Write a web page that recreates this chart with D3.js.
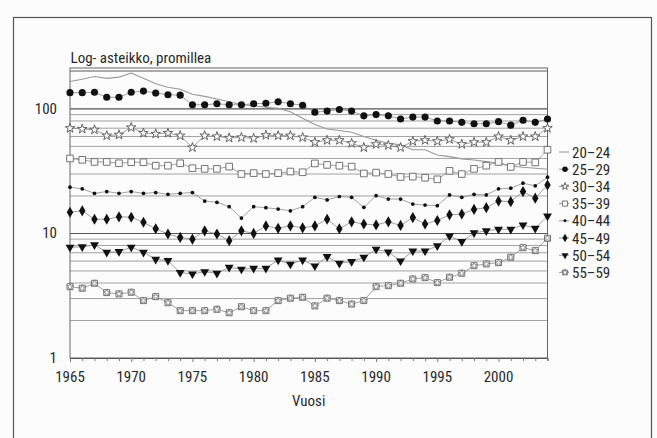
<!DOCTYPE html>
<html><head><meta charset="utf-8">
<script src="https://cdn.jsdelivr.net/npm/d3@7"></script>
<style>
html,body{margin:0;padding:0;background:#fcfcfc;}
svg{display:block;}
text{font-family:"Liberation Sans Narrow","Roboto Condensed","Arial Narrow","Liberation Sans",sans-serif;fill:#2a2a2a;}
</style></head>
<body>
<svg id="chart" width="657" height="438"></svg>
<script>
const years = [1965,1966,1967,1968,1969,1970,1971,1972,1973,1974,1975,1976,1977,1978,1979,1980,1981,1982,1983,1984,
               1985,1986,1987,1988,1989,1990,1991,1992,1993,1994,1995,1996,1997,1998,1999,2000,2001,2002,2003,2004];
const seriesNames = ["20–24","25–29","30–34","35–39","40–44","45–49","50–54","55–59"];
const s20_24 = [166,173,182,176,180,194,176,159,149,144,131,126,120,114,108,106,103,101,95,84,
                75,69,67,65,60,56,53,51.4,47,47,42.7,41.4,39.7,38.9,37.7,36.6,34.8,34,33.4,32.8];
const s25_29 = [135,135,136,124,124,136,139,134,130,129,108,108,110,108,108,110,111,114,110,107,
                94,96,99,96,88,90,88,83,86,86,80,80,78,76,76,79,74,81,78,83];
const s30_34 = [70,69,68,61,62,71,64,63,64,61,49,61,60,58.5,59,58,61.5,61,61,59,
                54,56,56,53,49,52,51,49,55,56,55,57,52,54,54,60,56,60,60,70];
const s35_39 = [40,39,37.5,37.5,36.6,37.3,37.3,35,35,36.6,33.4,33,33,34.4,30,30.5,30,30.5,31.4,31,
                36.5,35.5,35,34.4,30.3,30.8,30,28.4,28.6,28,27.2,31.8,30,33,35,37.5,34.2,37.5,37.2,47];
const s40_44 = [23.5,22.8,21,21.7,21,21.7,21,21.3,20.6,21,21.3,18.2,17.8,16.4,13.3,16.4,16.1,15.7,15.2,16.4,
                19.5,18.6,19.8,19.5,16.2,20.1,18.9,18.9,17.2,16.9,16.7,20.4,19.5,20.6,20.4,22.8,23.1,25.3,24.1,28.3];
const s45_49 = [14.8,15.2,13,13,13.6,13.5,12.3,10.9,9.9,9.3,9.0,10.5,9.9,8.75,10.5,10,11.5,11,11.5,11.1,
                11.5,13,10.9,12.4,11.9,11.7,12.4,11.6,13.4,11.9,12.7,14.1,14.3,15.6,16.1,18.2,18,21.7,19.2,24.5];
const s50_54 = [7.75,7.8,8.1,7.06,7.14,7.75,7.06,6.2,6.05,4.85,4.73,4.93,4.79,5.35,5.16,5.25,5.25,6.12,5.66,6.12,
                5.48,6.51,5.76,5.94,6.44,7.47,7.1,6.01,7.23,7.23,7.94,9.55,8.6,10.1,10.5,10.8,10.8,11.7,11,13.8];
const s55_59 = [3.74,3.63,3.98,3.35,3.27,3.37,2.89,3.11,2.78,2.40,2.40,2.40,2.46,2.31,2.58,2.40,2.40,2.89,3.02,3.07,
                2.62,3.02,2.89,2.71,2.89,3.74,3.81,3.98,4.31,4.42,4.03,4.45,4.79,5.51,5.69,5.83,6.44,7.69,7.28,9.15];
const seriesValues = [s20_24,s25_29,s30_34,s35_39,s40_44,s45_49,s50_54,s55_59];
const xTickLabels = [1965,1970,1975,1980,1985,1990,1995,2000];
const yTickLabels = [1,10,100];
const gridValues = [2,3,4,5,6,7,8,9,10,20,30,40,50,60,70,80,90,100,200];
const yTitle = "Log- asteikko, promillea";
const xTitle = "Vuosi";

const svg = d3.select("#chart");
// outer frame
svg.append("rect").attr("x",13.5).attr("y",17.5).attr("width",638).attr("height",440)
  .attr("fill","none").attr("stroke","#555").attr("stroke-width",1.2);

const L=70, R=547.5, T=68, B=358;
const x = d3.scaleLinear().domain([1965,2004]).range([L,R]);
const y = d3.scaleLog().domain([1,213]).range([B,T]);

const g = svg.append("g");
// gridlines
g.selectAll("line.grid").data(gridValues).join("line")
  .attr("x1",L).attr("x2",R).attr("y1",d=>y(d)).attr("y2",d=>y(d))
  .attr("stroke",d=>(d===10||d===100)?"#555":"#8a8a8a")
  .attr("stroke-width",d=>(d===10||d===100)?1.1:0.8);
// plot frame
g.append("rect").attr("x",L).attr("y",T).attr("width",R-L).attr("height",B-T)
  .attr("fill","none").attr("stroke","#666").attr("stroke-width",1);
g.append("line").attr("x1",L).attr("x2",R).attr("y1",T+2.5).attr("y2",T+2.5).attr("stroke","#999").attr("stroke-width",0.8);

// x axis
const xAxis = d3.axisBottom(x).tickValues(years).tickSize(3).tickFormat("");
const xa = g.append("g").attr("transform",`translate(0,${B})`).call(xAxis);
xa.select(".domain").attr("stroke","#555");
xa.selectAll(".tick line").attr("stroke","#777").attr("y2",d=>d%5===0?4:3);
g.selectAll("text.xl").data(xTickLabels).join("text")
  .attr("x",d=>x(d)).attr("y",B+24).attr("text-anchor","middle")
  .attr("font-size",15).text(d=>d);
// y labels
g.selectAll("text.yl").data(yTickLabels).join("text")
  .attr("x",57).attr("y",d=>y(d)+5).attr("text-anchor","end")
  .attr("font-size",15).text(d=>d);

svg.append("text").attr("x",70.5).attr("y",63).attr("font-size",15).text(yTitle);
svg.append("text").attr("x",(L+R)/2).attr("y",406).attr("text-anchor","middle").attr("font-size",15).text(xTitle);

// symbols
const sym = [
  null,
  {type:d3.symbolCircle,size:40,fill:"#111",stroke:"none"},
  {type:d3.symbolStar,size:28,fill:"#fcfcfc",stroke:"#555"},
  {type:d3.symbolSquare,size:44,fill:"#fcfcfc",stroke:"#666"},
  {type:d3.symbolCircle,size:11,fill:"#111",stroke:"none"},
  {type:d3.symbolDiamond,size:36,fill:"#111",stroke:"none"},
  {type:d3.symbolTriangle,size:34,fill:"#111",stroke:"none",rot:180},
  {type:d3.symbolSquare,size:36,fill:"#fcfcfc",stroke:"#666",inner:true}
];

const line = d3.line().x((d,i)=>x(years[i])).y(d=>y(d));
seriesValues.forEach((vals,k)=>{
  g.append("path").attr("d",line(vals)).attr("fill","none")
    .attr("stroke", k===0?"#999":"#8a8a8a").attr("stroke-width",k===0?1.1:0.8);
});
function drawMarker(sel, s){
  sel.append("path").attr("d",d3.symbol().type(s.type).size(s.size)())
    .attr("transform",s.rot?`rotate(${s.rot})`:null)
    .attr("fill",s.fill).attr("stroke",s.stroke).attr("stroke-width",0.9);
  if(s.inner){
    sel.append("path").attr("d",d3.symbol().type(d3.symbolStar).size(14)())
      .attr("fill","none").attr("stroke","#777").attr("stroke-width",0.7);
  }
}
seriesValues.forEach((vals,k)=>{
  const s = sym[k]; if(!s) return;
  vals.forEach((v,i)=>{
    const m = g.append("g").attr("transform",`translate(${x(years[i])},${y(v)})`);
    drawMarker(m,s);
  });
});

// legend
const lg = svg.append("g");
seriesNames.forEach((name,k)=>{
  const cy = 152 + k*17.2;
  lg.append("line").attr("x1",559).attr("x2",569).attr("y1",cy).attr("y2",cy)
    .attr("stroke","#888").attr("stroke-width",0.9);
  if(sym[k]){
    const m = lg.append("g").attr("transform",`translate(565,${cy})`);
    drawMarker(m,{...sym[k],size:sym[k].size*0.6});
  }
  lg.append("text").attr("x",572).attr("y",cy+5.5).attr("font-size",15).text(name);
});
</script>
</body></html>
